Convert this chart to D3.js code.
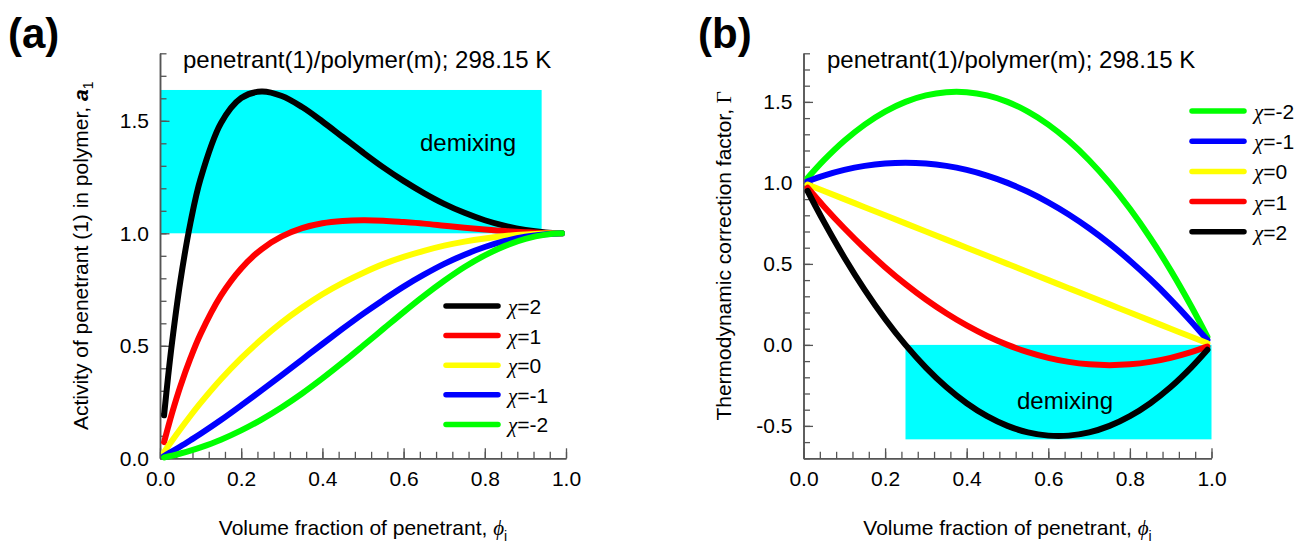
<!DOCTYPE html>
<html><head><meta charset="utf-8">
<script src="https://cdn.jsdelivr.net/npm/d3@7"></script>
<style>
body{margin:0;background:#fff;}
svg{display:block;font-family:"Liberation Sans",Arial,sans-serif;}
</style></head><body>
<svg id="chart" width="1302" height="544"></svg>
<script>
// Penetrant volume fractions at which the curves are tabulated
const phiA = [0.01,0.02,0.03,0.05,0.075,0.1,0.15,0.2,0.25,0.3,0.35,0.4,0.45,0.5,0.55,0.6,0.65,0.7,0.75,0.8,0.85,0.9,0.95,0.99];
const phiB = [0.01,0.05,0.1,0.15,0.2,0.25,0.3,0.35,0.4,0.45,0.5,0.55,0.6,0.65,0.7,0.75,0.8,0.85,0.9,0.95,0.99];

// (a) activity of penetrant a1
const actChi2  = [0.191,0.364,0.520,0.786,1.047,1.243,1.489,1.601,1.630,1.610,1.561,1.497,1.428,1.359,1.293,1.233,1.179,1.131,1.091,1.058,1.033,1.015,1.004,1.000];
const actChi1  = [0.0717,0.139,0.203,0.319,0.445,0.553,0.723,0.844,0.929,0.986,1.023,1.045,1.055,1.058,1.056,1.050,1.043,1.034,1.025,1.017,1.010,1.005,1.001,1.000];
const actChi0  = [0.0269,0.0533,0.0791,0.129,0.189,0.246,0.351,0.445,0.529,0.604,0.670,0.729,0.780,0.824,0.863,0.895,0.922,0.945,0.963,0.977,0.988,0.995,0.999,1.000];
const actChiM1 = [0.0101,0.0204,0.0309,0.0524,0.0804,0.109,0.170,0.235,0.302,0.370,0.439,0.508,0.576,0.642,0.704,0.763,0.816,0.864,0.905,0.939,0.966,0.985,0.996,1.000];
const actChiM2 = [0.0038,0.0078,0.0121,0.0213,0.0342,0.0487,0.0827,0.124,0.172,0.227,0.288,0.355,0.426,0.500,0.575,0.650,0.722,0.789,0.850,0.902,0.944,0.975,0.994,1.000];

// (b) thermodynamic correction factor Γ
const gamChiM2 = [1.030,1.140,1.260,1.360,1.440,1.500,1.540,1.560,1.560,1.540,1.500,1.440,1.360,1.260,1.140,1.000,0.840,0.660,0.460,0.240,0.050];
const gamChiM1 = [1.010,1.045,1.080,1.105,1.120,1.125,1.120,1.105,1.080,1.045,1.000,0.945,0.880,0.805,0.720,0.625,0.520,0.405,0.280,0.145,0.030];
const gamChi0  = [0.990,0.950,0.900,0.850,0.800,0.750,0.700,0.650,0.600,0.550,0.500,0.450,0.400,0.350,0.300,0.250,0.200,0.150,0.100,0.050,0.010];
const gamChi1  = [0.970,0.855,0.720,0.595,0.480,0.375,0.280,0.195,0.120,0.055,0.000,-0.045,-0.080,-0.105,-0.120,-0.125,-0.120,-0.105,-0.080,-0.045,-0.010];
const gamChi2  = [0.950,0.760,0.540,0.340,0.160,0.000,-0.140,-0.260,-0.360,-0.440,-0.500,-0.540,-0.560,-0.560,-0.540,-0.500,-0.440,-0.360,-0.260,-0.140,-0.030];

// Series labels and colours (legend order = drawing order)
const chiA = ["2","1","0","-1","-2"];
const colorsA = ["#000000","#ff0000","#ffff00","#0000ff","#00ff00"];
const valuesA = [actChi2, actChi1, actChi0, actChiM1, actChiM2];
const chiB = ["-2","-1","0","1","2"];
const colorsB = ["#00ff00","#0000ff","#ffff00","#ff0000","#000000"];
const valuesB = [gamChiM2, gamChiM1, gamChi0, gamChi1, gamChi2];

// Demixing regions: [phi from, phi to, value from, value to]
const demixA = [0, 0.94, 1.0, 1.637];
const demixB = [0.25, 1.0, -0.583, 0.0];

// Tick values
const xMajor = [0, 0.2, 0.4, 0.6, 0.8, 1.0];
const xMinor = d3.range(0, 1.0001, 0.04);
const yMajorA = [0, 0.5, 1.0, 1.5];
const yMinorA = d3.range(0, 1.8001, 0.1);
const yMajorB = [-0.5, 0, 0.5, 1.0, 1.5];
const yMinorB = d3.range(-0.7, 1.8001, 0.1);

const titleText = "penetrant(1)/polymer(m); 298.15 K";

const svg = d3.select("#chart");
const AX = "#555";

const plotTop = 53.3, plotBottom = 458.3;
const xA = d3.scaleLinear().domain([0, 1]).range([160, 566]);
const yA = d3.scaleLinear().domain([0, 1.8]).range([plotBottom, plotTop]);
const xB = d3.scaleLinear().domain([0, 1]).range([803.5, 1211.5]);
const yB = d3.scaleLinear().domain([-0.7, 1.8]).range([plotBottom, plotTop]);

function fmt(d){ return d.toFixed(1); }

function drawDemix(x, y, r) {
  svg.append("rect")
    .attr("x", x(r[0])).attr("y", y(r[3]))
    .attr("width", x(r[1]) - x(r[0])).attr("height", y(r[2]) - y(r[3]))
    .attr("fill", "#00ffff");
}

function drawAxes(x, y, yMaj, yMin) {
  const y0 = y.range()[0], x0 = x.range()[0];
  const gx1 = svg.append("g").attr("transform", `translate(0,${y0})`)
    .call(d3.axisBottom(x).tickValues(xMinor).tickSize(-6.5).tickSizeOuter(0).tickFormat(""));
  const gx2 = svg.append("g").attr("transform", `translate(0,${y0})`)
    .call(d3.axisBottom(x).tickValues(xMajor).tickSize(-10).tickSizeOuter(0).tickPadding(13).tickFormat(fmt));
  const gy1 = svg.append("g").attr("transform", `translate(${x0},0)`)
    .call(d3.axisLeft(y).tickValues(yMin).tickSize(-6.5).tickSizeOuter(0).tickFormat(""));
  const gy2 = svg.append("g").attr("transform", `translate(${x0},0)`)
    .call(d3.axisLeft(y).tickValues(yMaj).tickSize(-9.5).tickSizeOuter(0).tickPadding(11).tickFormat(fmt));
  [gx1, gx2, gy1, gy2].forEach(g => {
    g.selectAll(".domain").attr("stroke", AX).attr("stroke-width", 1.5);
    g.selectAll(".tick line").attr("stroke", AX).attr("stroke-width", 1.3);
    g.selectAll(".tick text").attr("fill", "#000").style("font-size", "21px")
      .style("font-family", "'Liberation Sans', Arial, sans-serif");
  });
}

function drawCurves(x, y, phi, values, colors) {
  const line = d3.line().curve(d3.curveCatmullRom.alpha(0.5))
    .x(d => x(d[0])).y(d => y(d[1]));
  values.forEach((vals, i) => {
    svg.append("path")
      .datum(phi.map((p, j) => [p, vals[j]]))
      .attr("d", line)
      .attr("fill", "none")
      .attr("stroke", colors[i])
      .attr("stroke-width", 6)
      .attr("stroke-linecap", "round")
      .attr("stroke-linejoin", "round");
  });
}

function drawLegend(x0, y0, dy, chis, colors) {
  chis.forEach((c, i) => {
    const yy = y0 + i * dy;
    svg.append("line").attr("x1", x0).attr("x2", x0 + 52).attr("y1", yy).attr("y2", yy)
      .attr("stroke", colors[i]).attr("stroke-width", 5.5).attr("stroke-linecap", "round");
    const t = svg.append("text").attr("x", x0 + 62).attr("y", yy + 8).style("font-size", "21px");
    t.append("tspan").text("χ").style("font-family", "'Liberation Serif','DejaVu Serif',serif").style("font-style", "italic");
    t.append("tspan").text("=" + c);
  });
}

function xLabel(cx) {
  const t = svg.append("text").attr("x", cx).attr("y", 535).attr("text-anchor", "middle").style("font-size", "21px");
  t.append("tspan").text("Volume fraction of penetrant, ");
  t.append("tspan").text("ϕ").style("font-family", "'Liberation Serif','DejaVu Serif',serif").style("font-style", "italic");
  t.append("tspan").text("i").attr("dy", 6).style("font-size", "14px");
}

// ---------- panel (a) ----------
drawDemix(xA, yA, demixA);
drawAxes(xA, yA, yMajorA, yMinorA);
drawCurves(xA, yA, phiA, valuesA, colorsA);
drawLegend(446, 306, 29.6, chiA, colorsA);

svg.append("text").attr("x", 8).attr("y", 48).text("(a)")
  .style("font-size", "42px").style("font-weight", "bold");
svg.append("text").attr("x", 183).attr("y", 68).text(titleText).style("font-size", "24px");
svg.append("text").attr("x", 468).attr("y", 151).attr("text-anchor", "middle").text("demixing").style("font-size", "24px");
xLabel((xA.range()[0] + xA.range()[1]) / 2);
{
  const t = svg.append("text").attr("transform", `translate(88,${(plotTop + plotBottom) / 2}) rotate(-90)`)
    .attr("text-anchor", "middle").style("font-size", "21px");
  t.append("tspan").text("Activity of penetrant (1) in polymer, ");
  t.append("tspan").text("a").style("font-weight", "bold").style("font-style", "italic");
  t.append("tspan").text("1").attr("dy", 5).style("font-size", "14px");
}

// ---------- panel (b) ----------
drawDemix(xB, yB, demixB);
drawAxes(xB, yB, yMajorB, yMinorB);
drawCurves(xB, yB, phiB, valuesB, colorsB);
drawLegend(1192, 111, 30.2, chiB, colorsB);

svg.append("text").attr("x", 698).attr("y", 48).text("(b)")
  .style("font-size", "42px").style("font-weight", "bold");
svg.append("text").attr("x", 827).attr("y", 68).text(titleText).style("font-size", "24px");
svg.append("text").attr("x", 1065).attr("y", 409).attr("text-anchor", "middle").text("demixing").style("font-size", "24px");
xLabel((xB.range()[0] + xB.range()[1]) / 2);
{
  const t = svg.append("text").attr("transform", `translate(731,${(plotTop + plotBottom) / 2}) rotate(-90)`)
    .attr("text-anchor", "middle").style("font-size", "21px");
  t.append("tspan").text("Thermodynamic correction factor, ");
  t.append("tspan").text("Γ").style("font-family", "'Liberation Serif','DejaVu Serif',serif");
}
</script>
</body></html>
